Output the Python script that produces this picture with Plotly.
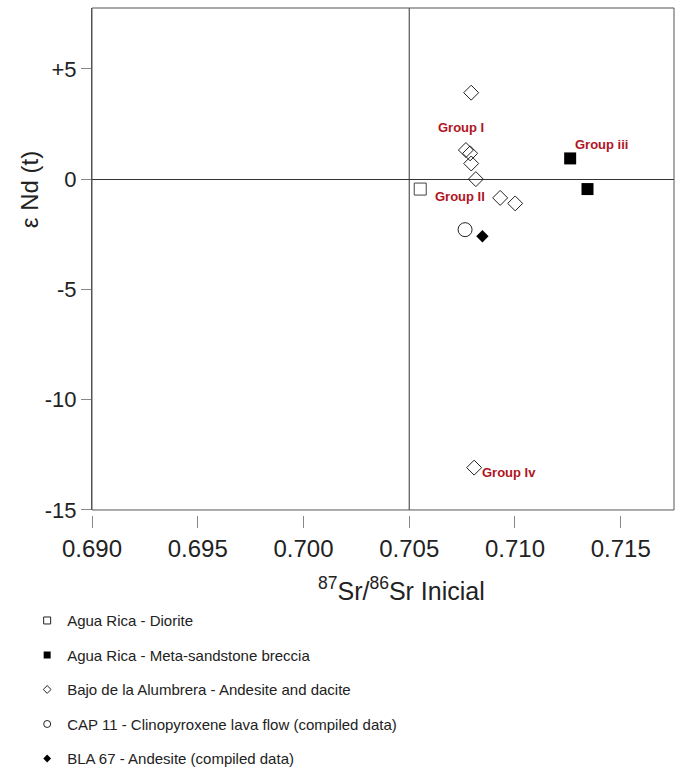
import plotly.graph_objects as go

# ---------------- data ----------------
diorite_x = [0.70552]
diorite_y = [-0.45]

breccia_x = [0.71261, 0.71343]
breccia_y = [0.94, -0.45]

alumbrera_x = [0.70793, 0.70768, 0.70788, 0.70793, 0.70815, 0.70930, 0.71001, 0.70807]
alumbrera_y = [3.92, 1.32, 1.17, 0.71, 0.00, -0.85, -1.10, -13.08]

cap11_x = [0.70764]
cap11_y = [-2.29]

bla67_x = [0.70846]
bla67_y = [-2.59]

group_labels = ["Group I", "Group II", "Group iii", "Group Iv"]
group_x = [0.70744, 0.70739, 0.71409, 0.70971]
group_y = [2.36, -0.77, 1.59, -13.3]

legend_names = [
    "Agua Rica - Diorite",
    "Agua Rica - Meta-sandstone breccia",
    "Bajo de la Alumbrera - Andesite and dacite",
    "CAP 11 - Clinopyroxene lava flow (compiled data)",
    "BLA 67 - Andesite (compiled data)",
]

x_ticks = [0.690, 0.695, 0.700, 0.705, 0.710, 0.715]
x_tick_text = ["0.690", "0.695", "0.700", "0.705", "0.710", "0.715"]
y_ticks = [5, 0, -5, -10, -15]
y_tick_text = ["+5", "0", "-5", "-10", "-15"]

x_range = [0.690, 0.71752]
y_range = [-15, 7.76]
ref_x = 0.705   # vertical reference line
ref_y = 0       # horizontal reference line

# ---------------- figure ----------------
fig = go.Figure()
line_col = "#333333"

fig.add_trace(go.Scatter(x=diorite_x, y=diorite_y, mode="markers", showlegend=False,
                         marker=dict(symbol="square-open", size=12, color="#444444", line=dict(width=1))))
fig.add_trace(go.Scatter(x=breccia_x, y=breccia_y, mode="markers", showlegend=False,
                         marker=dict(symbol="square", size=12, color="black")))
fig.add_trace(go.Scatter(x=alumbrera_x, y=alumbrera_y, mode="markers", showlegend=False,
                         marker=dict(symbol="diamond-open", size=11.5, color="#222222", line=dict(width=1))))
fig.add_trace(go.Scatter(x=cap11_x, y=cap11_y, mode="markers", showlegend=False,
                         marker=dict(symbol="circle-open", size=14, color="#222222", line=dict(width=1))))
fig.add_trace(go.Scatter(x=bla67_x, y=bla67_y, mode="markers", showlegend=False,
                         marker=dict(symbol="diamond", size=9.5, color="black")))

# legend-only traces (small symbols)
leg_markers = [
    dict(symbol="square-open", size=7, color="#222222", line=dict(width=1)),
    dict(symbol="square", size=7, color="black"),
    dict(symbol="diamond-open", size=6, color="#222222", line=dict(width=1)),
    dict(symbol="circle-open", size=7, color="#222222", line=dict(width=1)),
    dict(symbol="diamond", size=6, color="black"),
]
for i, (nm, mk) in enumerate(zip(legend_names, leg_markers)):
    fig.add_trace(go.Scatter(x=[None], y=[None], mode="markers", name=nm, marker=mk,
                             legendgroup=f"g{i}", showlegend=True))

for lbl, gx, gy in zip(group_labels, group_x, group_y):
    fig.add_annotation(x=gx, y=gy, text=f"<b>{lbl}</b>", showarrow=False,
                       font=dict(family="Liberation Sans, Arial", size=13, color="#b0151f"))

# reference lines and frame
fig.add_shape(type="line", x0=ref_x, x1=ref_x, y0=0, y1=1, xref="x", yref="y domain",
              line=dict(color=line_col, width=1))
fig.add_shape(type="rect", x0=0, x1=1, y0=0, y1=1, xref="x domain", yref="y domain",
              line=dict(color="#555555", width=1))

fig.add_annotation(text="<sup>87</sup>Sr/<sup>86</sup>Sr Inicial", xref="paper", yref="paper",
                   x=0.531, y=-0.146, xanchor="center", yanchor="middle", showarrow=False,
                   font=dict(family="Liberation Sans, Arial", size=25, color="#222222"))
fig.add_annotation(text="ε Nd (t)", xref="paper", yref="paper", x=-0.108, y=0.641,
                   xanchor="center", yanchor="middle",
                   textangle=-90, showarrow=False,
                   font=dict(family="Liberation Sans, Arial", size=24, color="#222222"))

fig.update_layout(
    width=681, height=770,
    margin=dict(l=92, r=7, t=8, b=255, autoexpand=False),
    paper_bgcolor="white", plot_bgcolor="white",
    font=dict(family="Liberation Sans, Arial", color="#222222"),
    xaxis=dict(range=x_range, tickvals=x_ticks, ticktext=x_tick_text,
               showgrid=False, zeroline=False, showline=False,
               ticks="outside", ticklen=12, tickcolor="#888888", tickwidth=1,
               anchor="free", position=0,
               tickfont=dict(size=24, color="#222222")),
    yaxis=dict(range=y_range, tickvals=y_ticks, ticktext=y_tick_text,
               domain=[0.0099, 1],
               showgrid=False, zeroline=True, zerolinecolor=line_col, zerolinewidth=1,
               showline=True, linecolor="#555555", linewidth=1,
               ticks="outside", ticklen=10, tickcolor="#888888", tickwidth=1,
               tickfont=dict(size=22, color="#222222")),
    legend=dict(x=-0.1114, y=-0.176, xanchor="left", yanchor="top",
                tracegroupgap=12, font=dict(size=15, color="#222222"),
                bgcolor="rgba(0,0,0,0)"),
)

fig.write_html("out.html")
